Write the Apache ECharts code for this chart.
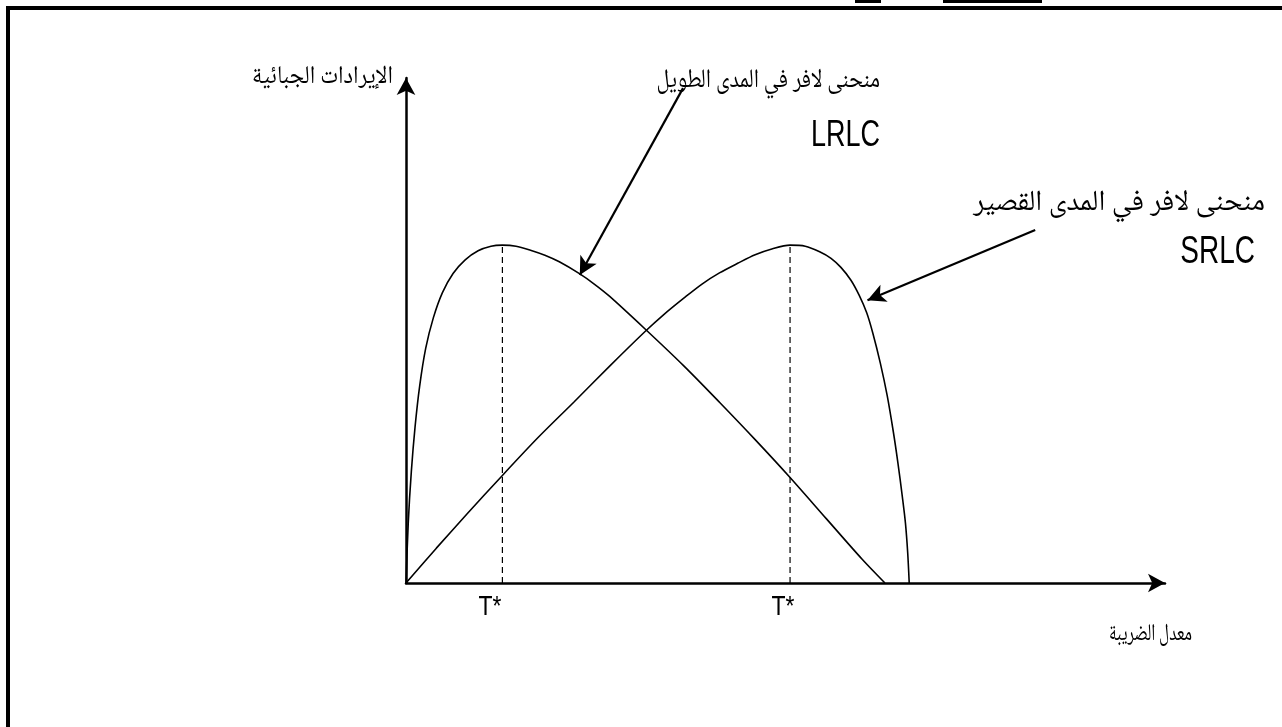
<!DOCTYPE html>
<html>
<head>
<meta charset="utf-8">
<script src="https://cdn.jsdelivr.net/npm/echarts@6/dist/echarts.min.js"></script>
<style>
html,body{margin:0;padding:0;background:#fff;}
#main{width:1282px;height:727px;}
</style>
</head>
<body>
<div id="main"></div>
<script>
// ---- data (axis units 0..100) ----
var lrlcX = [0, 0.3, 0.7, 1.2, 1.8, 2.6, 3.6, 4.8, 6.2, 7.8, 9.5, 11.2, 12.7, 14.5, 16.4, 18.3, 20.2, 22.8, 24.8, 26.8, 31.5, 36.6, 41.3, 46.0, 50.6, 55.4, 60.1, 63.1];
var lrlcY = [0, 12, 22, 31, 39, 46.5, 52.5, 57.5, 61.3, 64.0, 65.8, 66.7, 66.9, 66.7, 65.9, 64.9, 63.6, 61.3, 59.2, 56.8, 50.3, 43.0, 35.8, 28.4, 20.9, 12.7, 4.7, 0];
var srlcX = [0, 4, 8, 12.7, 17.4, 22.1, 26.8, 31.5, 34.0, 36.6, 39.0, 41.3, 43.7, 46.0, 48.3, 50.6, 52.6, 54.5, 56.0, 57.3, 58.6, 59.7, 60.7, 61.5, 62.5, 63.4, 64.2, 64.8, 65.4, 65.8, 66.1, 66.3];
var srlcY = [0, 6.9, 13.6, 21.3, 28.8, 35.8, 42.9, 49.8, 53.2, 56.4, 59.2, 61.4, 63.3, 65.0, 66.2, 66.9, 66.7, 65.6, 64.3, 62.5, 60.0, 57.0, 53.5, 49.5, 43.5, 37.1, 30.0, 23.9, 17.0, 11.9, 6.0, 0];
var tStar = [12.7, 50.6];
var peakY = 66.9;
var tickLabels = ['T*', 'T*'];
var lrlcArrow = [[36.5, 98.0], [22.9, 61.0]];
var srlcArrow = [[82.9, 69.9], [60.8, 56.0]];
var yTitle = 'الإيرادات الجبائية';
var xTitle = 'معدل الضريبة';
var lrlcTitle = 'منحنى لافر في المدى الطويل';
var srlcTitle = 'منحنى لافر في المدى القصير';
var lrlcName = 'LRLC';
var srlcName = 'SRLC';

function zip(xs, ys){ return xs.map(function(x,i){ return [x, ys[i]]; }); }

var chart = echarts.init(document.getElementById('main'), null, {renderer:'canvas'});
var arFont = "'Noto Naskh Arabic','Noto Sans Arabic','DejaVu Sans',serif";
var latFont = "'Liberation Sans', Arial, sans-serif";

function txt(x, y, text, size, font, align, sy){
  return {type: 'text', x: x, y: y, scaleY: sy || 1,
    style: {text: text, font: size + 'px ' + font, fill: '#000', textAlign: align, textVerticalAlign: 'middle'}};
}

var option = {
  backgroundColor: '#ffffff',
  animation: false,
  grid: {left: 406, top: 78, width: 759, height: 505},
  xAxis: {
    type: 'value', min: 0, max: 100,
    axisLine: {show: true, lineStyle: {color: '#000', width: 2.5}, symbol: ['none','arrow'], symbolSize: [14, 17]},
    axisTick: {show: false}, axisLabel: {show: false}, splitLine: {show: false}
  },
  yAxis: {
    type: 'value', min: 0, max: 100,
    axisLine: {show: true, lineStyle: {color: '#000', width: 2.5}, symbol: ['none','arrow'], symbolSize: [14, 17]},
    axisTick: {show: false}, axisLabel: {show: false}, splitLine: {show: false}
  },
  series: [
    {type: 'line', name: 'LRLC', data: zip(lrlcX, lrlcY), smooth: 0.3, showSymbol: false,
     lineStyle: {color: '#000', width: 1.6}, z: 3},
    {type: 'line', name: 'SRLC', data: zip(srlcX, srlcY), smooth: 0.3, showSymbol: false,
     lineStyle: {color: '#000', width: 1.6}, z: 3},
    {type: 'line', data: [[tStar[0], 0], [tStar[0], peakY]], showSymbol: false,
     lineStyle: {color: '#000', width: 1.2, type: [6, 4]}, z: 2},
    {type: 'line', data: [[tStar[1], 0], [tStar[1], peakY]], showSymbol: false,
     lineStyle: {color: '#000', width: 1.2, type: [6, 4]}, z: 2},
    {type: 'line', data: [], showSymbol: false,
     markLine: {
       silent: true, symbol: ['none', 'arrow'], symbolSize: [14, 18],
       label: {show: false},
       lineStyle: {color: '#000', width: 2.2, type: 'solid'},
       data: [
         [{coord: lrlcArrow[0]}, {coord: lrlcArrow[1]}],
         [{coord: srlcArrow[0]}, {coord: srlcArrow[1]}]
       ]
     }}
  ],
  graphic: [
    // page frame
    {type: 'rect', shape: {x: 6, y: 6, width: 1276, height: 4}, style: {fill: '#000'}},
    {type: 'rect', shape: {x: 6, y: 6, width: 4, height: 721}, style: {fill: '#000'}},
    {type: 'rect', shape: {x: 855, y: 0, width: 26, height: 3}, style: {fill: '#000'}},
    {type: 'rect', shape: {x: 943, y: 0, width: 99, height: 3}, style: {fill: '#000'}},
    // texts
    txt(393, 80, yTitle, 23, arFont, 'right', 1.1),
    txt(880, 84, lrlcTitle, 22, arFont, 'right', 1.2),
    txt(880, 136, lrlcName, 27, latFont, 'right', 1.35),
    txt(1265, 206, srlcTitle, 29, arFont, 'right', 1.0),
    txt(1255, 252, srlcName, 28, latFont, 'right', 1.4),
    txt(490, 607, tickLabels[0], 23, latFont, 'center', 1.2),
    txt(783, 607, tickLabels[1], 23, latFont, 'center', 1.2),
    txt(1192, 637, xTitle, 17, arFont, 'right', 1.4)
  ]
};
chart.setOption(option);
</script>
</body>
</html>
